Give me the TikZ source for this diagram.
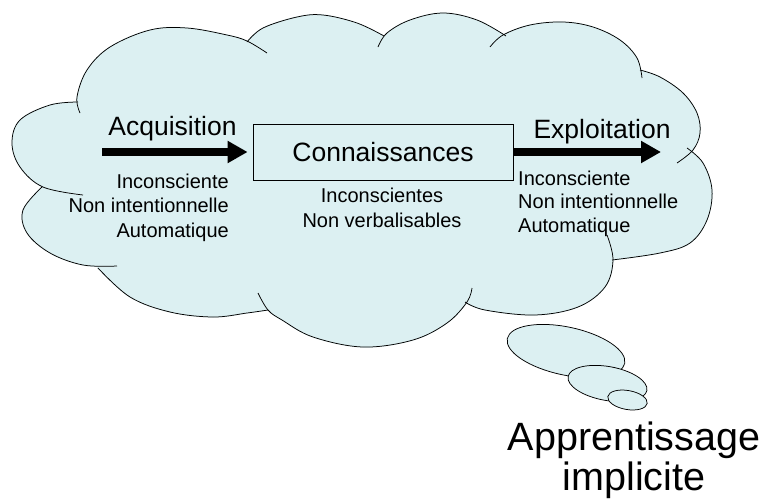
\documentclass[tikz,border=0pt]{standalone}
\usepackage{fontspec}
\setmainfont{Liberation Sans}
\usetikzlibrary{arrows.meta,shapes.geometric}
\definecolor{cloudcol}{RGB}{220,240,242}
\tikzset{
  cloudfill/.style={fill=cloudcol, draw=cloudcol, line width=1pt, line join=round},
  cloudline/.style={draw=black, line width=0.75pt},
  kbox/.style={draw=black, line width=0.8pt, minimum width=260pt, minimum height=56pt, inner sep=0pt,
    font=\fontsize{26.5}{30}\selectfont},
  bigtxt/.style={font=\fontsize{26.5}{30}\selectfont, inner sep=0pt},
  smalltxt/.style={font=\fontsize{20}{24}\selectfont, inner sep=0pt},
  titletxt/.style={font=\fontsize{39.5}{44}\selectfont, inner sep=0pt},
  bigarrow/.style={line width=8.5pt, -{Triangle[length=20pt,width=21pt]}},
  bubble/.style={ellipse, draw=black, fill=cloudcol, line width=0.75pt, inner sep=0pt, outer sep=0pt}
}
\newcommand\fillbump[1]{plot[smooth,tension=0.6] coordinates {#1} -- cycle }
\newcommand\drawbump[1]{\draw[cloudline] plot[smooth,tension=0.6] coordinates {#1};}
\newcommand\cloudbumps[1]{%
#1{(80,113) (77,97) (87,70) (110,47) (150,30) (187,28) (227,35) (247,41) (267,53)}%
#1{(247,42) (263,28) (297,17) (323,15) (357,23) (384,36)}%
#1{(378,47) (387,33) (410,20) (443,13) (477,20) (506,36)}%
#1{(490,47) (503,35) (530,25) (563,22) (593,27) (620,40) (637,58) (642,78)}%
#1{(640,70) (660,77) (683,93) (697,113) (700,133) (693,150) (677,163)}%
#1{(687,148) (703,163) (712,190) (707,220) (690,243) (660,253) (612,260)}%
#1{(607,235) (613,260) (605,287) (578,307) (535,315) (485,310) (465,302)}%
#1{(472,288) (467,302) (447,323) (413,340) (363,347) (313,337) (282,320) (268,310) (258,293)}%
#1{(268,310) (247,313) (213,317) (170,312) (130,297) (98,268)}%
#1{(117,266) (83,265) (50,253) (27,233) (23,210) (42,187)}%
#1{(83,195) (43,187) (20,167) (12,143) (20,120) (50,105) (78,102)}%
}
\begin{document}
\begin{tikzpicture}[x=1pt,y=-1pt]
\useasboundingbox (0,0) rectangle (770,499);
% cloud fill (one path, nonzero rule, all parts clockwise)
\path[cloudfill] (78,102) -- (248,42) -- (383,36) -- (503,35) -- (640,70) -- (689,152)
  -- (612,260) -- (465,302) -- (268,310) -- (98,268) -- (43,187) -- cycle
  \cloudbumps\fillbump;
\cloudbumps\drawbump
% thought bubbles
\node[bubble, minimum width=120pt, minimum height=48pt, rotate=-12] (b1) at (566,351) {};
\node[bubble, minimum width=80pt, minimum height=34pt, rotate=-10] (b2) at (607.5,383.5) {};
\node[bubble, minimum width=40pt, minimum height=19pt, rotate=-10] (b3) at (627.5,400) {};
% box and arrows
\node[kbox] (kn) at (383,152) {Connaissances};
\coordinate (acqstart) at (102,152);
\coordinate (expend) at (661,152);
\draw[bigarrow, shorten >=5pt] (acqstart) -- (kn.west);
\draw[bigarrow] (kn.east) -- (expend);
% labels
\node[bigtxt, anchor=base] (acq) at (172.5,135) {Acquisition};
\node[bigtxt, anchor=base] (exp) at (602,138) {Exploitation};
\node[smalltxt, anchor=base east] (l1) at (229,188) {Inconsciente};
\node[smalltxt, anchor=base east] (l2) at (229,212.5) {Non intentionnelle};
\node[smalltxt, anchor=base east] (l3) at (229,237) {Automatique};
\node[smalltxt, anchor=base] (m1) at (382,202) {Inconscientes};
\node[smalltxt, anchor=base] (m2) at (382,227) {Non verbalisables};
\node[smalltxt, anchor=base west] (r1) at (518,185) {Inconsciente};
\node[smalltxt, anchor=base west] (r2) at (518,208.5) {Non intentionnelle};
\node[smalltxt, anchor=base west] (r3) at (518,232) {Automatique};
\node[titletxt, anchor=base] (t1) at (634,450) {Apprentissage};
\node[titletxt, anchor=base] (t2) at (634,490) {implicite};
\end{tikzpicture}
\end{document}
